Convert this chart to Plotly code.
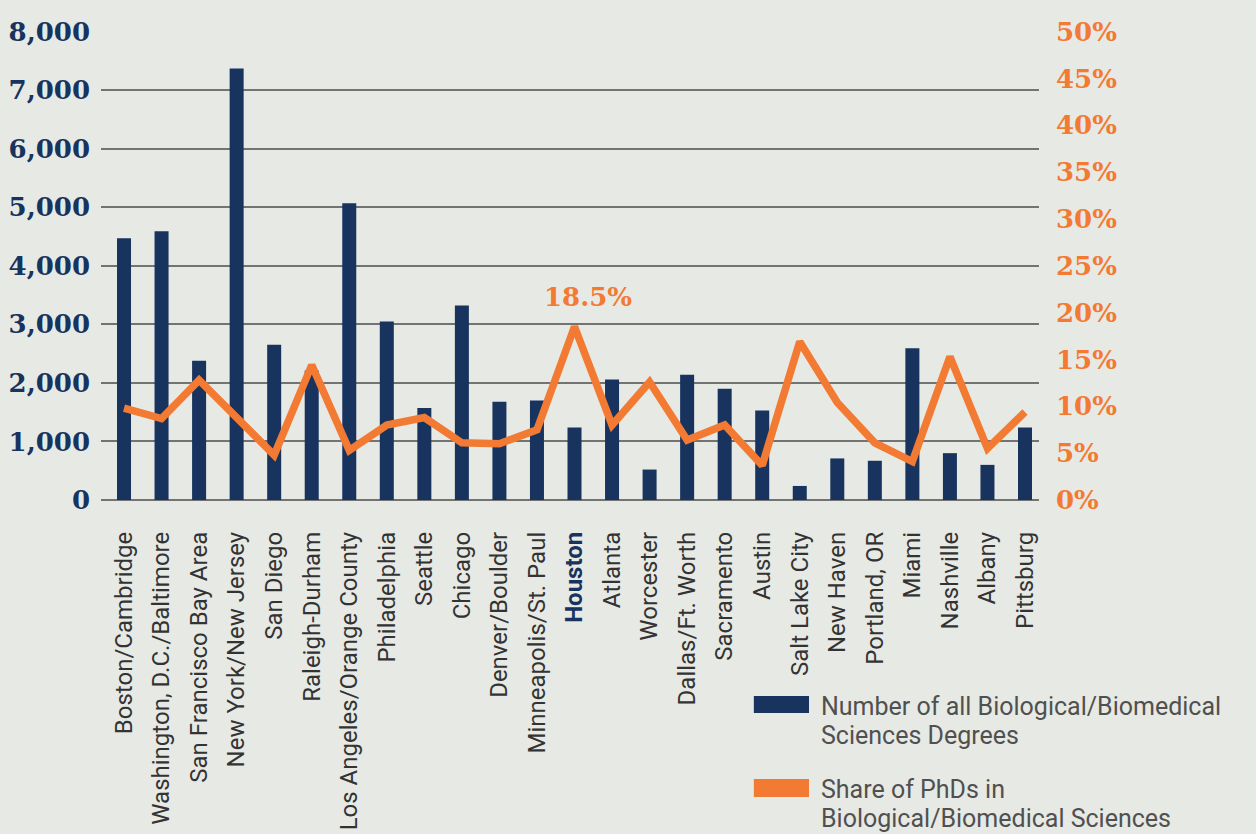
import plotly.graph_objects as go

cities = ["Boston/Cambridge", "Washington, D.C./Baltimore", "San Francisco Bay Area",
          "New York/New Jersey", "San Diego", "Raleigh-Durham", "Los Angeles/Orange County",
          "Philadelphia", "Seattle", "Chicago", "Denver/Boulder", "Minneapolis/St. Paul",
          "Houston", "Atlanta", "Worcester", "Dallas/Ft. Worth", "Sacramento", "Austin",
          "Salt Lake City", "New Haven", "Portland, OR", "Miami", "Nashville", "Albany",
          "Pittsburg"]
degrees = [4470, 4590, 2380, 7370, 2650, 2210, 5070, 3050, 1570, 3320, 1680, 1700,
           1240, 2060, 520, 2140, 1900, 1530, 240, 710, 670, 2590, 800, 600, 1240]
phd_share = [0.098, 0.087, 0.128, 0.089, 0.048, 0.144, 0.053, 0.080, 0.088, 0.061,
             0.060, 0.075, 0.185, 0.080, 0.126, 0.064, 0.080, 0.037, 0.169, 0.104,
             0.061, 0.041, 0.153, 0.055, 0.094]
left_ticks = [0, 1000, 2000, 3000, 4000, 5000, 6000, 7000, 8000]
right_ticks = [0, 0.05, 0.10, 0.15, 0.20, 0.25, 0.30, 0.35, 0.40, 0.45, 0.50]
highlight = "Houston"
legend_lines = [
    ["Number of all Biological/Biomedical", "Sciences Degrees"],
    ["Share of PhDs in", "Biological/Biomedical Sciences"],
]

NAVY = "#17335e"
ORANGE = "#f37a32"
BG = "#e7e9e4"
SLAB = "DejaVu Serif"

ticktext = [f"<span style='color:{NAVY}'><b>{c}</b></span>" if c == highlight else c for c in cities]

fig = go.Figure()
fig.add_trace(go.Bar(x=cities, y=degrees, marker=dict(color=NAVY, line=dict(width=0)),
                     name=" ".join(legend_lines[0]), yaxis="y"))
fig.add_trace(go.Scatter(x=cities, y=phd_share, mode="lines",
                         line=dict(color=ORANGE, width=7.5),
                         name=" ".join(legend_lines[1]), yaxis="y2"))

fig.update_layout(
    width=1256, height=834,
    paper_bgcolor=BG, plot_bgcolor=BG,
    margin=dict(l=101, r=217, t=31, b=334, autoexpand=False),
    showlegend=False,
    bargap=0.627,
    xaxis=dict(tickmode="array", tickvals=cities, ticktext=ticktext, tickangle=-90,
               range=[-0.613, len(cities) - 1 + 0.373],
               tickfont=dict(family="Roboto", size=24, color="#333333"),
               showgrid=False, showline=False, zeroline=False, ticks="",
               ticklabelstandoff=26, automargin=False),
    yaxis=dict(range=[0, 8010], tickvals=left_ticks, tickformat=",d",
               tickfont=dict(family=SLAB, size=26, color=NAVY, weight="bold"),
               showgrid=True, gridcolor="#737373", gridwidth=1.5,
               zeroline=True, zerolinecolor="#737373", zerolinewidth=1.5,
               showline=False, ticks="", ticklabelstandoff=10, automargin=False),
    yaxis2=dict(range=[0, 0.5 * 8010 / 8000], tickvals=right_ticks, tickformat=".0%",
                overlaying="y", side="right",
                tickfont=dict(family=SLAB, size=26, color=ORANGE, weight="bold"),
                showgrid=False, zeroline=False, showline=False, ticks="",
                ticklabelstandoff=16, automargin=False),
)

hi = cities.index(highlight)
fig.add_annotation(x=highlight, y=phd_share[hi], yref="y2", text=f"<b>{phd_share[hi]*100:.1f}%</b>",
                   showarrow=False, yanchor="middle", yshift=30, xshift=13,
                   font=dict(family=SLAB, size=26, color=ORANGE))

# custom legend (paper coords)
legend_geo = [
    (NAVY, -0.454, -0.418, [-0.441, -0.503]),
    (ORANGE, -0.633, -0.595, [-0.618, -0.680]),
]
for (col, y0, y1, ys), lines in zip(legend_geo, legend_lines):
    fig.add_shape(type="rect", xref="paper", yref="paper", x0=0.696, x1=0.7548, y0=y0, y1=y1,
                  fillcolor=col, line=dict(width=0))
    for yy, txt in zip(ys, lines):
        fig.add_annotation(xref="paper", yref="paper", x=0.7665, y=yy, text=txt, showarrow=False,
                           xanchor="left", yanchor="middle", align="left", borderpad=0,
                           font=dict(family="Roboto", size=25, color="#505050"))

fig.write_html("out.html", config={"displayModeBar": False},
               post_script="document.body.style.margin='0';document.body.style.overflow='hidden';")
